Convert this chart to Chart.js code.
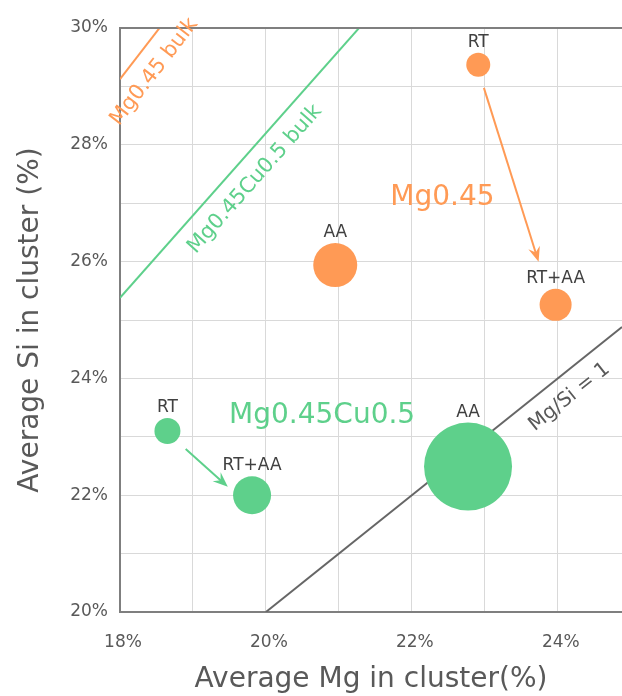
<!DOCTYPE html>
<html>
<head>
<meta charset="utf-8">
<script src="https://cdn.jsdelivr.net/npm/chart.js@4"></script>
<style>
  html, body { margin: 0; padding: 0; background: #fff; overflow: hidden; }
  canvas { display: block; }
</style>
</head>
<body>
<canvas id="c" width="622" height="696"></canvas>
<script>
// Cluster compositions for each ageing condition
const conditions = ['RT', 'AA', 'RT+AA'];

// Mg0.45 alloy
const mg045Mg = [22.91, 20.95, 23.97];
const mg045Si = [29.37, 25.94, 25.26];
const mg045Size = [12, 22, 16];

// Mg0.45Cu0.5 alloy
const cuMg = [18.65, 22.77, 19.81];
const cuSi = [23.10, 22.49, 22.00];
const cuSize = [13, 44, 19];

// Si/Mg ratios of the reference lines (bulk compositions and Mg/Si = 1)
const mg045BulkRatio = 1.618;
const cuBulkRatio = 1.41;
const unityRatio = 1;

// Axis ranges and labelled ticks
const xRange = [18, 24.88];
const yRange = [20, 30];
const xTickLabels = [18, 20, 22, 24];
const yTickLabels = [20, 22, 24, 26, 28, 30];

const ORANGE = '#ff9a55';
const GREEN = '#5ed08b';
const GREY_LINE = '#666666';
const TEXT = '#595959';
const FONT = '"DejaVu Sans", Verdana, sans-serif';

function bubbles(xs, ys, rs) {
  return xs.map((x, i) => ({ x: x, y: ys[i], r: rs[i] }));
}
function ratioLine(k, x0, x1) {
  return [{ x: x0, y: k * x0 }, { x: x1, y: k * x1 }];
}

// Text, arrows and the top frame line drawn over the plot
const overlay = {
  id: 'overlay',
  afterDatasetsDraw(chart) {
    const ctx = chart.ctx;
    const xs = chart.scales.x, ys = chart.scales.y;
    const area = chart.chartArea;
    const px = v => xs.getPixelForValue(v);
    const py = v => ys.getPixelForValue(v);

    // frame line along the top
    ctx.save();
    ctx.strokeStyle = '#7f7f7f';
    ctx.lineWidth = 2;
    ctx.beginPath();
    ctx.moveTo(area.left - 1, area.top);
    ctx.lineTo(area.right, area.top);
    ctx.stroke();
    ctx.restore();

    // condition labels above every bubble
    ctx.save();
    ctx.font = '17px ' + FONT;
    ctx.fillStyle = '#404040';
    ctx.textAlign = 'center';
    ctx.textBaseline = 'alphabetic';
    [0, 1].forEach(di => {
      const meta = chart.getDatasetMeta(di);
      meta.data.forEach((el, i) => {
        const r = chart.data.datasets[di].data[i].r;
        ctx.fillText(conditions[i], el.x, el.y - r - 6);
      });
    });
    ctx.restore();

    // arrows RT -> RT+AA, placed along the segment joining the two bubbles
    function arrow(di, from, to, t0, t1, n0, n1, color) {
      const m = chart.getDatasetMeta(di).data;
      const a = m[from], b = m[to];
      const dx = b.x - a.x, dy = b.y - a.y;
      const len = Math.hypot(dx, dy);
      let ux = dx / len, uy = dy / len;
      const nx = -uy, ny = ux;
      const sx = a.x + dx * t0 + nx * n0, sy = a.y + dy * t0 + ny * n0;
      const ex = a.x + dx * t1 + nx * n1, ey = a.y + dy * t1 + ny * n1;
      const l2 = Math.hypot(ex - sx, ey - sy);
      ux = (ex - sx) / l2; uy = (ey - sy) / l2;
      const qx = -uy, qy = ux;
      const hl = 15, hw = 6;
      ctx.save();
      ctx.strokeStyle = color;
      ctx.fillStyle = color;
      ctx.lineWidth = 2;
      ctx.beginPath();
      ctx.moveTo(sx, sy);
      ctx.lineTo(ex - ux * hl * 0.6, ey - uy * hl * 0.6);
      ctx.stroke();
      ctx.beginPath();
      ctx.moveTo(ex, ey);
      ctx.lineTo(ex - ux * hl + qx * hw, ey - uy * hl + qy * hw);
      ctx.lineTo(ex - ux * hl * 0.65, ey - uy * hl * 0.65);
      ctx.lineTo(ex - ux * hl - qx * hw, ey - uy * hl - qy * hw);
      ctx.closePath();
      ctx.fill();
      ctx.restore();
    }
    arrow(0, 0, 2, 0.094, 0.817, 1.7, 3, ORANGE);
    arrow(1, 0, 2, 0.24, 0.77, 3.4, 7.9, GREEN);

    // free text
    function label(text, x, y, color, size, angleFromRatio) {
      ctx.save();
      ctx.font = size + 'px ' + FONT;
      ctx.fillStyle = color;
      ctx.textAlign = 'center';
      ctx.textBaseline = 'middle';
      ctx.translate(px(x), py(y));
      if (angleFromRatio) {
        const ang = Math.atan2(py(angleFromRatio * 21) - py(angleFromRatio * 20), px(21) - px(20));
        ctx.rotate(ang);
      }
      ctx.fillText(text, 0, 0);
      ctx.restore();
    }
    label('Mg0.45', 22.42, 27.09, ORANGE, 28);
    label('Mg0.45Cu0.5', 20.77, 23.36, GREEN, 28);
    label('Mg0.45 bulk', 18.47, 29.25, ORANGE, 21, mg045BulkRatio);
    label('Mg0.45Cu0.5 bulk', 19.85, 27.41, GREEN, 21, cuBulkRatio);
    label('Mg/Si = 1', 24.16, 23.68, '#595959', 20, unityRatio);
  }
};

new Chart(document.getElementById('c'), {
  type: 'bubble',
  data: {
    datasets: [
      { label: 'Mg0.45', data: bubbles(mg045Mg, mg045Si, mg045Size),
        backgroundColor: ORANGE, borderWidth: 0, order: 1 },
      { label: 'Mg0.45Cu0.5', data: bubbles(cuMg, cuSi, cuSize),
        backgroundColor: GREEN, borderWidth: 0, order: 1 },
      { type: 'line', label: 'Mg0.45 bulk', data: ratioLine(mg045BulkRatio, xRange[0], xRange[1]),
        borderColor: ORANGE, borderWidth: 2, pointRadius: 0, fill: false, order: 2 },
      { type: 'line', label: 'Mg0.45Cu0.5 bulk', data: ratioLine(cuBulkRatio, xRange[0], xRange[1]),
        borderColor: GREEN, borderWidth: 2, pointRadius: 0, fill: false, order: 2 },
      { type: 'line', label: 'Mg/Si = 1', data: ratioLine(unityRatio, yRange[0], xRange[1]),
        borderColor: GREY_LINE, borderWidth: 2, pointRadius: 0, fill: false, order: 2 }
    ]
  },
  options: {
    responsive: false,
    animation: false,
    events: [],
    layout: { autoPadding: false, padding: { top: 28, right: 0, left: 0, bottom: 0 } },
    plugins: { legend: { display: false }, tooltip: { enabled: false } },
    scales: {
      x: {
        type: 'linear', min: xRange[0], max: xRange[1],
        afterFit(s) { s.height = 84; s.paddingLeft = 0; s.paddingRight = 0; },
        grid: { color: '#d9d9d9', lineWidth: 1, drawTicks: false },
        border: { color: '#7f7f7f', width: 2 },
        ticks: {
          stepSize: 1, includeBounds: false, padding: 20, labelOffset: 3, color: TEXT, maxRotation: 0, autoSkip: false,
          font: { family: FONT, size: 17 },
          callback: v => xTickLabels.includes(v) ? v + '%' : ''
        },
        title: {
          display: true, text: 'Average Mg in cluster(%)', color: TEXT,
          font: { family: FONT, size: 28, lineHeight: 1 }, padding: { top: 0, bottom: 2 }
        }
      },
      y: {
        type: 'linear', min: yRange[0], max: yRange[1],
        afterFit(s) { s.width = 120; s.paddingTop = 0; s.paddingBottom = 0; },
        grid: { color: '#d9d9d9', lineWidth: 1, drawTicks: false },
        border: { color: '#7f7f7f', width: 2 },
        ticks: {
          stepSize: 1, padding: 12, color: TEXT, autoSkip: false,
          font: { family: FONT, size: 17 },
          callback: v => yTickLabels.includes(v) ? v + '%' : ''
        },
        title: {
          display: true, text: 'Average Si in cluster (%)', color: TEXT,
          font: { family: FONT, size: 28, lineHeight: 1 }, padding: { top: 17, bottom: 0 }
        }
      }
    }
  },
  plugins: [overlay]
});
</script>
</body>
</html>
